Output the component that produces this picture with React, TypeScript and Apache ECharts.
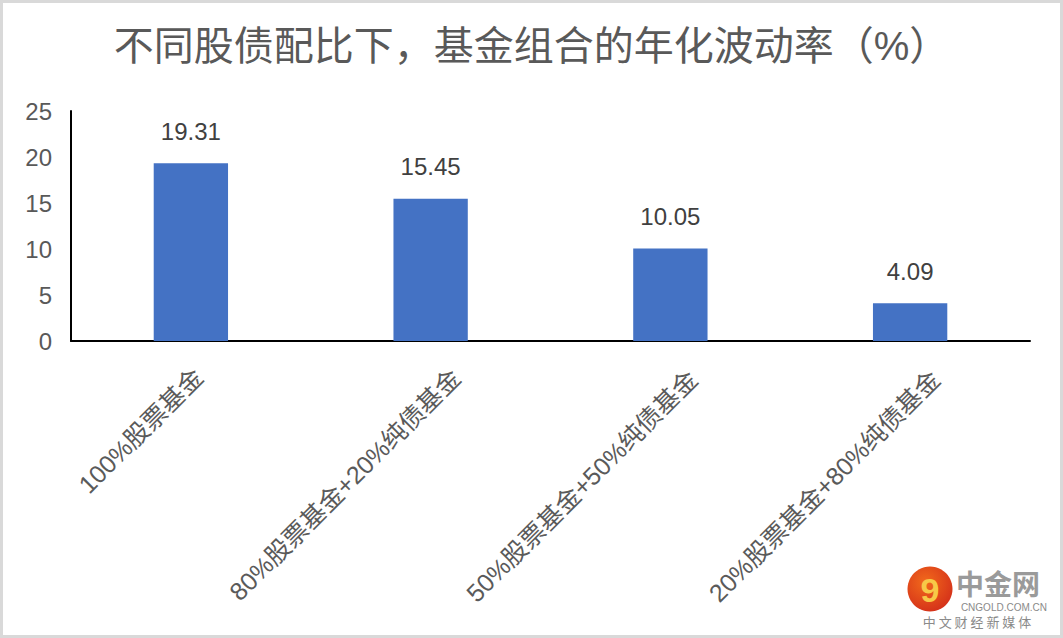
import React, { useEffect, useRef } from "react";
import * as echarts from "echarts";

const titleText = "不同股债配比下，基金组合的年化波动率（%）";
const categories = ["100%股票基金", "80%股票基金+20%纯债基金", "50%股票基金+50%纯债基金", "20%股票基金+80%纯债基金"];
const values = [19.31, 15.45, 10.05, 4.09];

export default function App() {
  const ref = useRef<HTMLDivElement>(null);
  useEffect(() => {
    document.body.style.margin = "0";
    const chart = echarts.init(ref.current!, undefined, { renderer: "svg" });
    const font = "'Liberation Sans', Arial, 'Noto Sans CJK SC', sans-serif";
    // layout nudges for rotated labels: [along text, perpendicular]
    const labelNudge = [
      [0, 11],
      [12, 24],
      [9, 23],
      [11, 25],
    ];
    const rich: Record<string, any> = {};
    labelNudge.forEach((n, i) => {
      rich["n" + i] = {
        fontSize: 25,
        color: "#5a5a5a",
        fontFamily: font,
        padding: [0, -n[0], -2 * n[1], 0],
      };
    });
    chart.setOption({
      animation: false,
      backgroundColor: "#ffffff",
      textStyle: { fontFamily: font },
      title: {
        text: titleText,
        left: "center",
        top: 21,
        textStyle: { fontSize: 40, fontWeight: "normal", color: "#595959", fontFamily: font },
      },
      grid: { left: 71, right: 33, top: 111, bottom: 297, containLabel: false },
      xAxis: {
        type: "category",
        data: categories,
        axisLine: { lineStyle: { color: "#000000", width: 2 } },
        axisTick: { show: false },
        axisLabel: {
          rotate: 45,
          fontSize: 25,
          color: "#5a5a5a",
          margin: 24,
          interval: 0,
          fontFamily: font,
          formatter: (v: string, i: number) => `{n${i}|${v}}`,
          rich,
        },
      },
      yAxis: {
        type: "value",
        min: 0,
        max: 25,
        interval: 5,
        axisLine: { show: true, lineStyle: { color: "#000000", width: 2 } },
        axisTick: { show: false },
        splitLine: { show: false },
        axisLabel: { fontSize: 24, color: "#595959", margin: 19, fontFamily: font },
      },
      series: [
        {
          type: "bar",
          data: values,
          barWidth: "31%",
          itemStyle: { color: "#4472C4" },
          label: {
            show: true,
            position: "top",
            distance: 20,
            fontSize: 24,
            color: "#404040",
            fontFamily: font,
            formatter: (p: any) => p.value.toFixed(2),
          },
        },
      ],
      graphic: [
        {
          type: "rect",
          shape: { x: 1.5, y: 1.5, width: 1060, height: 635 },
          style: { fill: "none", stroke: "#d9d9d9", lineWidth: 3 },
          silent: true,
        },
        {
          type: "circle",
          shape: { cx: 930, cy: 589, r: 22.5 },
          style: {
            fill: new echarts.graphic.RadialGradient(0.4, 0.35, 0.7, [
              { offset: 0, color: "#f26a1b" },
              { offset: 1, color: "#d4301a" },
            ]),
          },
        },
        {
          type: "text",
          x: 930,
          y: 590,
          style: { text: "9", fill: "#f7c948", fontSize: 34, fontWeight: "bold", align: "center", verticalAlign: "middle", fontFamily: font },
        },
        {
          type: "text",
          x: 956,
          y: 583,
          style: { text: "中金网", fill: "#9a9a9a", fontSize: 28, fontWeight: "bold", verticalAlign: "middle", fontFamily: "'Noto Sans CJK SC', sans-serif" },
        },
        {
          type: "text",
          x: 1047,
          y: 607,
          style: { text: "CNGOLD.COM.CN", fill: "#8a8a8a", fontSize: 10, align: "right", verticalAlign: "middle", fontFamily: font },
        },
        {
          type: "text",
          x: 977,
          y: 621,
          style: { text: "中 文 财 经 新 媒 体", fill: "#8a8a8a", fontSize: 13, align: "center", verticalAlign: "middle", fontFamily: "'Noto Sans CJK SC', sans-serif" },
        },
      ],
    });
    return () => chart.dispose();
  }, []);
  return <div ref={ref} style={{ position: "absolute", left: 0, top: 0, width: 1063, height: 638 }} />;
}
